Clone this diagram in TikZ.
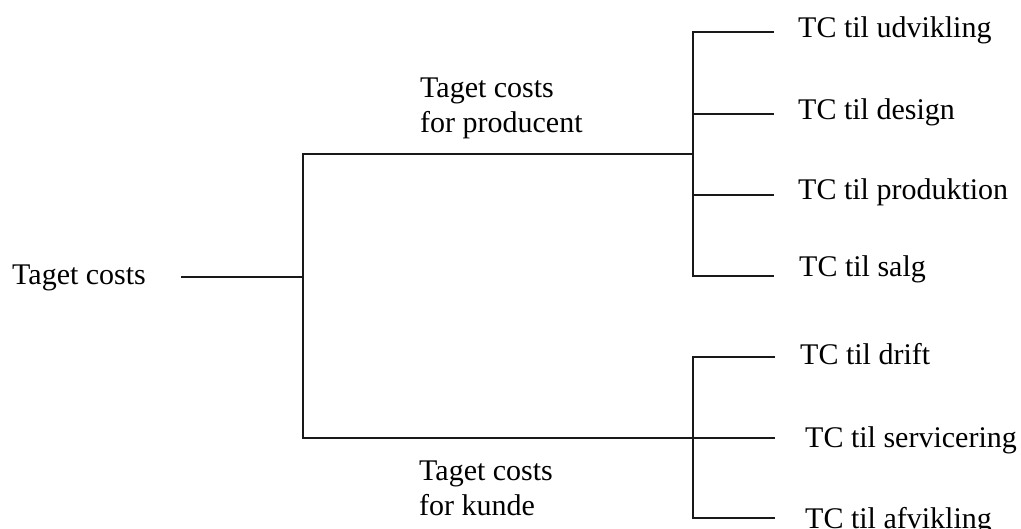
\documentclass[tikz,border=0pt]{standalone}
\usepackage{fontspec}
\setmainfont{Liberation Serif}
\begin{document}
\begin{tikzpicture}[x=1pt,y=-1pt,
  conn/.style={line width=1.7pt,black!90,line cap=rect},
  lbl/.style={inner sep=0pt,anchor=base west,font=\fontsize{30}{35}\selectfont},
  mlbl/.style={inner sep=0pt,anchor=west,align=left,font=\fontsize{30}{35}\selectfont}]
\useasboundingbox (0,0) rectangle (1021,529);
% labels
\node[lbl] (root) at (12,285) {Taget costs};
\node[mlbl] (prod) at (420,108) {Taget costs\\for producent};
\node[mlbl] (kunde) at (419,488) {Taget costs\\for kunde};
\node[lbl] (n1) at (798,38) {TC til udvikling};
\node[lbl] (n2) at (798,120) {TC til design};
\node[lbl] (n3) at (798,200) {TC til produktion};
\node[lbl] (n4) at (799,277) {TC til salg};
\node[lbl] (n5) at (800,365) {TC til drift};
\node[lbl] (n6) at (805,447) {TC til servicering};
\node[lbl] (n7) at (805,528) {TC til afvikling};
% junctions
\coordinate (r) at (182,277);
\coordinate (j0) at (303,277);
\coordinate (j0t) at (303,154);
\coordinate (j0b) at (303,438);
\coordinate (j1) at (693,154);
\coordinate (t1) at (693,32);
\coordinate (t2) at (693,114);
\coordinate (t3) at (693,195);
\coordinate (t4) at (693,276);
\coordinate (b1) at (693,357);
\coordinate (b3) at (693,518);
\coordinate (e1) at (773,32);
\coordinate (e2) at (773,114);
\coordinate (e3) at (773,195);
\coordinate (e4) at (773,276);
\coordinate (e5) at (774,357);
\coordinate (e6) at (774,438);
\coordinate (e7) at (774,518);
% connectors
\draw[conn] (r) -- (j0);
\draw[conn] (j0t) -- (j0b);
\draw[conn] (j0t) -- (j1);
\draw[conn] (j0b) -- (e6);
\draw[conn] (e1) -- (t1) -- (t4) -- (e4);
\draw[conn] (t2) -- (e2);
\draw[conn] (t3) -- (e3);
\draw[conn] (e5) -- (b1) -- (b3) -- (e7);
\end{tikzpicture}
\end{document}
